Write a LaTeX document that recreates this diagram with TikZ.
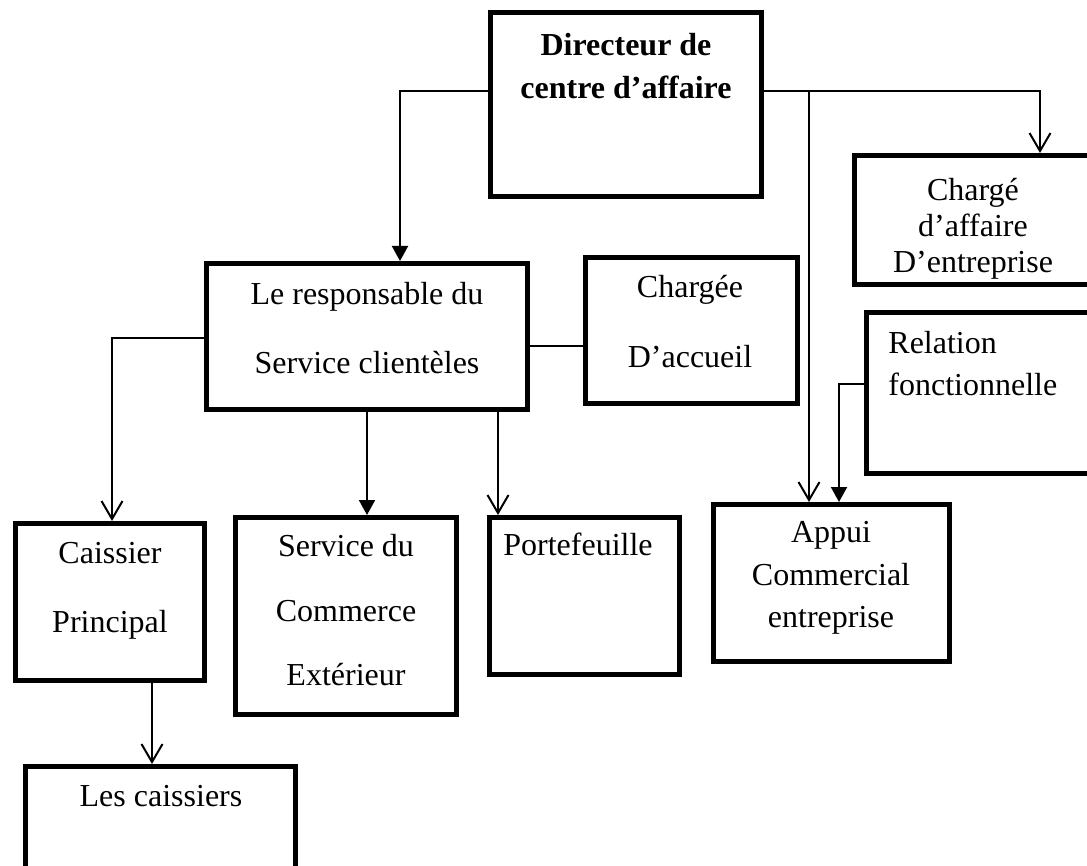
\documentclass[tikz,border=0pt]{standalone}
\usepackage{fontspec}
\setmainfont{Liberation Serif}
\usetikzlibrary{arrows.meta,fit}
\tikzset{
	box/.style     = {draw, line width=2.5pt, inner sep=0pt},
	conn/.style    = {line width=1pt},
	barb/.style    = {-{Straight Barb[length=9pt,width=10.5pt]}}, % open tip
	tri/.style     = {-{Triangle[length=7.5pt,width=8pt]}}, % filled tip
	txt/.style     = {inner sep=0pt, anchor=north, align=center,
		font=\fontsize{16}{#1}\selectfont},
	txt/.default   = 19
}

\begin{document}
\begin{tikzpicture}[x=0.5pt, y=-0.5pt]
	\useasboundingbox (0,0) rectangle (1087,866);
	
	% boxes
	\node[box, fit={(490.5,12.5) (761.5,196.5)}] (dir) {};
	\node[box, fit={(854.5,155.5) (1095,284.5)}] (caff) {};
	\node[box, fit={(206.5,263.5) (527.5,409.5)}] (resp) {};
	\node[box, fit={(585.5,257.5) (797.5,403.5)}] (acc) {};
	\node[box, fit={(866.5,312.5) (1095,473.5)}] (rel) {};
	\node[box, fit={(713.5,504.5) (949.5,661.5)}] (appui) {};
	\node[box, fit={(15.5,523.5) (204.5,680.5)}] (caiss) {};
	\node[box, fit={(235.5,517.5) (456.5,714.5)}] (serv) {};
	\node[box, fit={(489.5,517.5) (679.5,674.5)}] (porte) {};
	\node[box, fit={(25.5,766.5) (295.5,880)}] (lesc) {};
	
	% texts
	\node[txt=21.5, font=\fontsize{16}{21.5}\selectfont\bfseries] (dirT) at (626,33) {Directeur de\\centre d’affaire};
	\node[txt=18] (caffT) at (973,178) {Chargé\\d’affaire\\D’entreprise};
	\node[txt=34.5] (respT) at (367,282) {Le responsable du\\Service clientèles};
	\node[txt=35] (accT) at (690,275) {Chargée\\D’accueil};
	\node[txt=21, anchor=north west, align=left] (relT) at (888,331) {Relation\\fonctionnelle};
	\node[txt=21.25] (appuiT) at (831,521) {Appui\\Commercial\\entreprise};
	\node[txt=34.5] (caissT) at (110,542) {Caissier\\Principal};
	\node[txt=32.25] (servT) at (346,534) {Service du\\Commerce\\Extérieur};
	\node[txt] (porteT) at (578,533) {Portefeuille};
	\node[txt] (lescT) at (161,785) {Les caissiers};
	
	% connectors
	\coordinate (jct) at (809,91);
	\draw[conn, tri] (dir.west |- 0,91) -| (resp.north -| 400,0);
	\draw[conn, barb] (dir.east |- 0,91) -| (caff.north -| 1040,0);
	\draw[conn, barb] (jct) -- (appui.north -| jct);
	\draw[conn, tri] (rel.west |- 0,384) -| (appui.north -| 839,0);
	\draw[conn] (resp.east |- 0,346) -- (acc.west |- 0,346);
	\draw[conn, barb] (resp.west |- 0,338) -| (caiss.north -| 112,0);
	\draw[conn, tri] (resp.south) -- (serv.north -| resp.south);
	\draw[conn, barb] (resp.south -| 498,0) -- (porte.north -| 498,0);
	\draw[conn, barb] (caiss.south -| 152,0) -- (lesc.north -| 152,0);
\end{tikzpicture}
\end{document}
